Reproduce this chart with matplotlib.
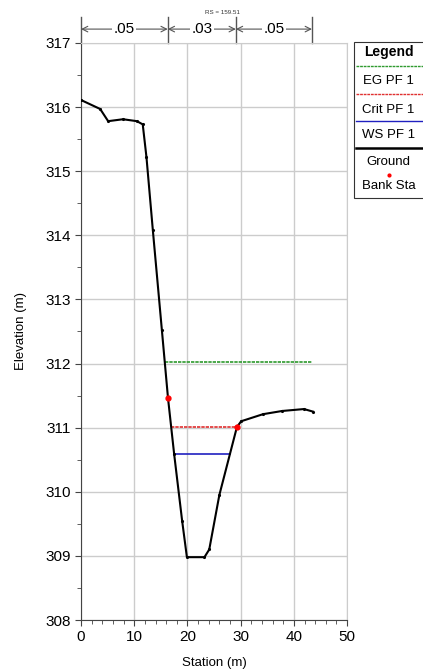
import matplotlib.pyplot as plt
from matplotlib.lines import Line2D
from matplotlib.patches import Rectangle

plt.rcParams['font.family'] = ['Liberation Sans', 'DejaVu Sans']

# ground profile
station = [0.0, 3.6, 5.1, 7.9, 10.5, 11.6, 12.3, 13.5, 15.2, 16.35, 17.5, 19.0, 19.9,
           23.2, 24.1, 26.0, 29.3, 30.1, 34.2, 37.8, 41.9, 43.6]
elev = [316.11, 315.97, 315.78, 315.81, 315.78, 315.73, 315.22, 314.08, 312.52, 311.46,
        310.59, 309.55, 308.98, 308.98, 309.10, 309.95, 311.01, 311.10, 311.21, 311.26,
        311.29, 311.25]

bank_x = [16.35, 29.3]
bank_y = [311.46, 311.01]

eg_x = [15.8, 43.4]
eg_y = 312.02
crit_x = [16.9, 29.3]
crit_y = 311.01
ws_x = [17.5, 28.0]
ws_y = 310.59

n_bounds = [0, 16.3, 29.1, 43.4]
n_vals = ['.05', '.03', '.05']

fig = plt.figure(figsize=(4.23, 6.71), dpi=100)
ax = fig.add_axes([0.1915, 0.076, 0.629, 0.86])

ax.plot(eg_x, [eg_y, eg_y], color='#2e9a2e', lw=1.2, ls=(0, (2, 0.6)), zorder=3)
ax.plot(crit_x, [crit_y, crit_y], color='#e03030', lw=1.2, ls=(0, (2, 0.6)), zorder=3)
ax.plot(ws_x, [ws_y, ws_y], color='#2020c0', lw=1.2, zorder=3)
ax.plot(station, elev, color='black', lw=1.5, marker='.', ms=2.5, zorder=4)
ax.plot(bank_x, bank_y, ls='none', marker='o', ms=3.5, color='red', zorder=5)

ax.set_xlim(0, 50)
ax.set_ylim(308, 317)
ax.set_xticks(range(0, 51, 10))
ax.set_xticks(range(0, 51, 2), minor=True)
ax.set_yticks(range(308, 318))
ax.set_yticks([308.5 + i for i in range(9)], minor=True)
ax.grid(True, color='#cccccc', lw=1.0)
ax.tick_params(labelsize=11, length=4, color='#444444')
ax.tick_params(which='minor', length=3, color='#444444')
for s in ['top', 'right']:
    ax.spines[s].set_color('#cccccc')
for s in ['left', 'bottom']:
    ax.spines[s].set_color('#444444')
ax.set_xlabel('Station (m)', fontsize=9.5, labelpad=9)
ax.set_ylabel('Elevation (m)', fontsize=9.5, labelpad=13)

# roughness markers above plot
tr = ax.get_xaxis_transform()
for b in n_bounds:
    ax.plot([b, b], [1.0, 1.045], transform=tr, color='#555555', lw=1, clip_on=False)
for i, v in enumerate(n_vals):
    x0, x1 = n_bounds[i], n_bounds[i + 1]
    ax.annotate('', xy=(x0, 1.024), xytext=(x1, 1.024), xycoords=tr, textcoords=tr,
                arrowprops=dict(arrowstyle='<->', color='#555555', lw=0.8,
                                shrinkA=0, shrinkB=0))
    ax.text((x0 + x1) / 2, 1.024, v, transform=tr, ha='center', va='center', fontsize=11,
            bbox=dict(boxstyle='square,pad=0.1', fc='white', ec='none'))

fig.text(0.525, 0.982, 'RS = 159.51', fontsize=4.5, ha='center', va='center', color='#333333')


# legend box (pixel rows from the top)
def fy(px):
    return 1 - px / 671


lx0 = 354 / 423
cx = (lx0 + 1) / 2
fig.patches.append(Rectangle((lx0, fy(198)), 0.2, fy(42) - fy(198), transform=fig.transFigure,
                             fc='white', ec='#333333', lw=0.8))
fig.text(cx, fy(52), 'Legend', fontsize=10, weight='bold', ha='center', va='center')
rows = [('EG PF 1', 66, 81, '#2e9a2e', (0, (2, 0.6)), 1.0),
        ('Crit PF 1', 94, 110, '#e03030', (0, (2, 0.6)), 1.0),
        ('WS PF 1', 121, 135, '#2020c0', '-', 1.0),
        ('Ground', 148, 162, 'black', '-', 1.8)]
for lab, ly, ty, c, ls, lw in rows:
    fig.add_artist(Line2D([lx0 + 0.004, 1], [fy(ly), fy(ly)], transform=fig.transFigure,
                          color=c, lw=lw, ls=ls))
    fig.text(cx, fy(ty), lab, fontsize=9.5, ha='center', va='center')
fig.add_artist(Line2D([cx], [fy(175)], transform=fig.transFigure, marker='o', ms=2,
                      color='red', ls='none'))
fig.text(cx, fy(186), 'Bank Sta', fontsize=9.5, ha='center', va='center')

fig.savefig('out.png', dpi=100)
